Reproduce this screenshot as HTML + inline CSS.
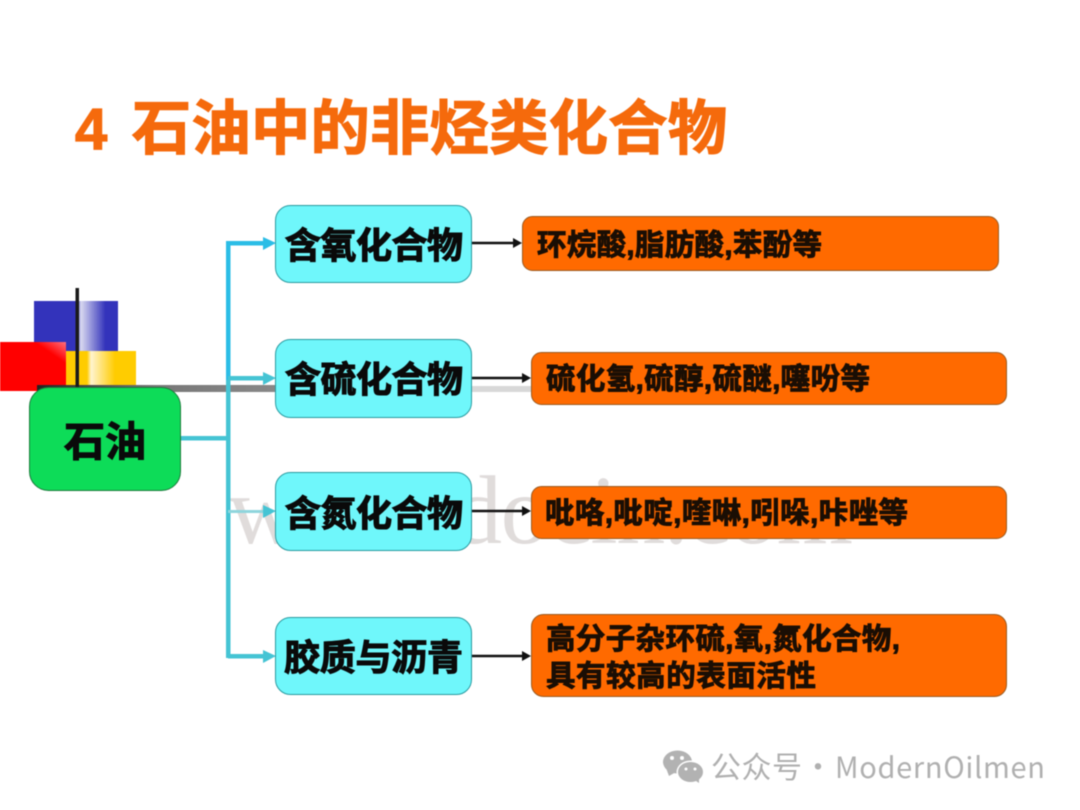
<!DOCTYPE html>
<html><head><meta charset="utf-8"><style>
html,body{margin:0;padding:0;background:#fff;width:1080px;height:810px;overflow:hidden}
svg{display:block;filter:blur(.45px)}
text{font-family:"Liberation Sans","Noto Sans CJK SC",sans-serif;font-weight:700}
.b{fill:#0a0a0a;stroke:#0a0a0a;stroke-width:1.1;paint-order:stroke}
.o{fill:#1a0e04;stroke:#1a0e04;stroke-width:.9}
</style></head><body>
<svg width="1080" height="810" viewBox="0 0 1080 810" xmlns="http://www.w3.org/2000/svg">
<defs>
<linearGradient id="bl" x1="0" x2="1" y1="0" y2="0"><stop offset="0" stop-color="#3333bb"/><stop offset=".5" stop-color="#3333bb"/><stop offset=".56" stop-color="#d8d8f0"/><stop offset=".85" stop-color="#3333bb"/><stop offset="1" stop-color="#3333bb"/></linearGradient>
<linearGradient id="ye" x1="0" x2="1" y1="0" y2="0"><stop offset="0" stop-color="#ffcc00"/><stop offset=".3" stop-color="#ffcc00"/><stop offset=".36" stop-color="#fff4d0"/><stop offset=".7" stop-color="#ffcc00"/><stop offset="1" stop-color="#ffcc00"/></linearGradient>
<linearGradient id="re" x1="0" x2="1" y1="1" y2="0"><stop offset="0" stop-color="#ff0000"/><stop offset=".78" stop-color="#ff0000"/><stop offset="1" stop-color="#ff7080"/></linearGradient>
<linearGradient id="gr" x1="0" x2="1" y1="0" y2="0"><stop offset="0" stop-color="#222"/><stop offset=".5" stop-color="#777"/><stop offset="1" stop-color="#888"/></linearGradient>
</defs>

<text x="75" y="149" font-size="58" fill="#f56a0c" stroke="#f56a0c" stroke-width="1.2">4</text>
<text x="132" y="149" font-size="59" fill="#f56a0c" stroke="#f56a0c" stroke-width="1.4" textLength="595" lengthAdjust="spacing">石油中的非烃类化合物</text>

<!-- watermark -->
<text x="228" y="543" font-size="98" textLength="625" lengthAdjust="spacing" style="font-family:'Liberation Serif',serif;font-weight:400" fill="#e0dcdb">www.docin.com</text>

<!-- decoration -->
<rect x="34" y="301" width="84" height="50" fill="url(#bl)"/>
<rect x="66" y="351" width="70" height="35" fill="url(#ye)"/>
<rect x="-6" y="342" width="72" height="49" fill="url(#re)"/>
<rect x="37" y="385" width="239" height="7" fill="url(#gr)"/>
<rect x="472" y="386" width="60" height="6" fill="#d8d8d8"/>
<rect x="75.5" y="288" width="3.5" height="100" fill="#1a1a1a"/>

<!-- cyan connectors -->
<rect x="180" y="436" width="48" height="4.5" fill="#45c4d4"/>
<rect x="226" y="241" width="4.5" height="200" fill="#2bbde6"/>
<rect x="226" y="380" width="4.5" height="278" fill="#45c4d4"/>
<rect x="228" y="241" width="36" height="4.5" fill="#2bbde6"/>
<polygon points="263,237 276,243 263,250" fill="#2bbde6"/>
<rect x="228" y="376" width="36" height="4.5" fill="#45c4d4"/>
<polygon points="263,372 276,378 263,385" fill="#45c4d4"/>
<rect x="228" y="510" width="36" height="3" fill="#8fd5dc"/>
<polygon points="263,505 276,511 263,518" fill="#45c4d4"/>
<rect x="228" y="654" width="36" height="4.5" fill="#45c4d4"/>
<polygon points="263,650 276,656 263,663" fill="#45c4d4"/>

<!-- green -->
<rect x="29.5" y="387.5" width="151" height="103" rx="19" fill="#0ddc58" stroke="#1c7a3c" stroke-width="1"/>
<text x="64" y="456" font-size="41" class="b" textLength="82" lengthAdjust="spacing">石油</text>

<!-- cyan boxes -->
<g fill="#6ff7fb" stroke="#2a9aa0" stroke-width="1">
<rect x="275.5" y="205.5" width="196" height="77" rx="15"/>
<rect x="275.5" y="339.5" width="196" height="78" rx="15"/>
<rect x="275.5" y="472.5" width="196" height="78" rx="15"/>
<rect x="275.5" y="617.5" width="196" height="77" rx="15"/>
</g>
<g font-size="36" class="b">
<text x="285" y="258" textLength="178" lengthAdjust="spacing">含氧化合物</text>
<text x="285" y="392" textLength="178" lengthAdjust="spacing">含硫化合物</text>
<text x="285" y="526" textLength="178" lengthAdjust="spacing">含氮化合物</text>
<text x="284" y="670" textLength="179" lengthAdjust="spacing">胶质与沥青</text>
</g>

<!-- black arrows -->
<g stroke="#111" stroke-width="2.6"><line x1="472" y1="243" x2="516" y2="243"/><line x1="472" y1="378" x2="525" y2="378"/><line x1="472" y1="511" x2="525" y2="511"/><line x1="472" y1="656" x2="525" y2="656"/></g>
<g fill="#111">
<polygon points="513,238 522,243 513,248"/>
<polygon points="522,373 531,378 522,383"/>
<polygon points="522,506 531,511 522,516"/>
<polygon points="522,651 531,656 522,661"/>
</g>

<!-- orange boxes -->
<g fill="#ff6a00" stroke="#9a5a20" stroke-width="1">
<rect x="522.5" y="216.5" width="476" height="54" rx="10"/>
<rect x="531.5" y="352.5" width="475" height="52" rx="10"/>
<rect x="531.5" y="486.5" width="475" height="52" rx="10"/>
<rect x="531.5" y="614.5" width="475" height="82" rx="12"/>
</g>
<g font-size="29.5" class="o">
<text x="537" y="255" textLength="285" lengthAdjust="spacing">环烷酸,脂肪酸,苯酚等</text>
<text x="546" y="389" textLength="324" lengthAdjust="spacing">硫化氢,硫醇,硫醚,噻吩等</text>
<text x="545" y="523" textLength="363" lengthAdjust="spacing">吡咯,吡啶,喹啉,吲哚,咔唑等</text>
<text x="546" y="649" textLength="354" lengthAdjust="spacing">高分子杂环硫,氧,氮化合物,</text>
<text x="546" y="686" textLength="270" lengthAdjust="spacing">具有较高的表面活性</text>
</g>

<!-- footer -->
<g fill="#b2b2b2">
<ellipse cx="677.5" cy="762" rx="14.5" ry="11.5"/>
<polygon points="666,768 669,776 676,772"/>
</g>
<ellipse cx="690.5" cy="772" rx="14" ry="11.5" fill="#fff"/>
<ellipse cx="690.5" cy="772" rx="12.5" ry="10" fill="#b2b2b2"/>
<polygon points="693,779 699,783 699,776" fill="#b2b2b2"/>
<g fill="#fff"><circle cx="672" cy="758" r="2"/><circle cx="682" cy="758" r="2"/><circle cx="686" cy="769" r="1.5"/><circle cx="695" cy="769" r="1.5"/></g>
<g fill="#b0b0b0" style="font-weight:400">
<text x="711" y="778" font-size="30" textLength="91" lengthAdjust="spacing" style="font-weight:400;font-family:'Noto Sans CJK SC','Liberation Sans',sans-serif">公众号</text>
<text x="803" y="778" font-size="30" style="font-weight:400;font-family:'Noto Sans CJK SC','Liberation Sans',sans-serif">·</text>
<text x="835" y="778" font-size="29" textLength="210" lengthAdjust="spacing" style="font-weight:400;font-family:'Noto Sans CJK SC','Liberation Sans',sans-serif">ModernOilmen</text>
</g>
</svg>
</body></html>
